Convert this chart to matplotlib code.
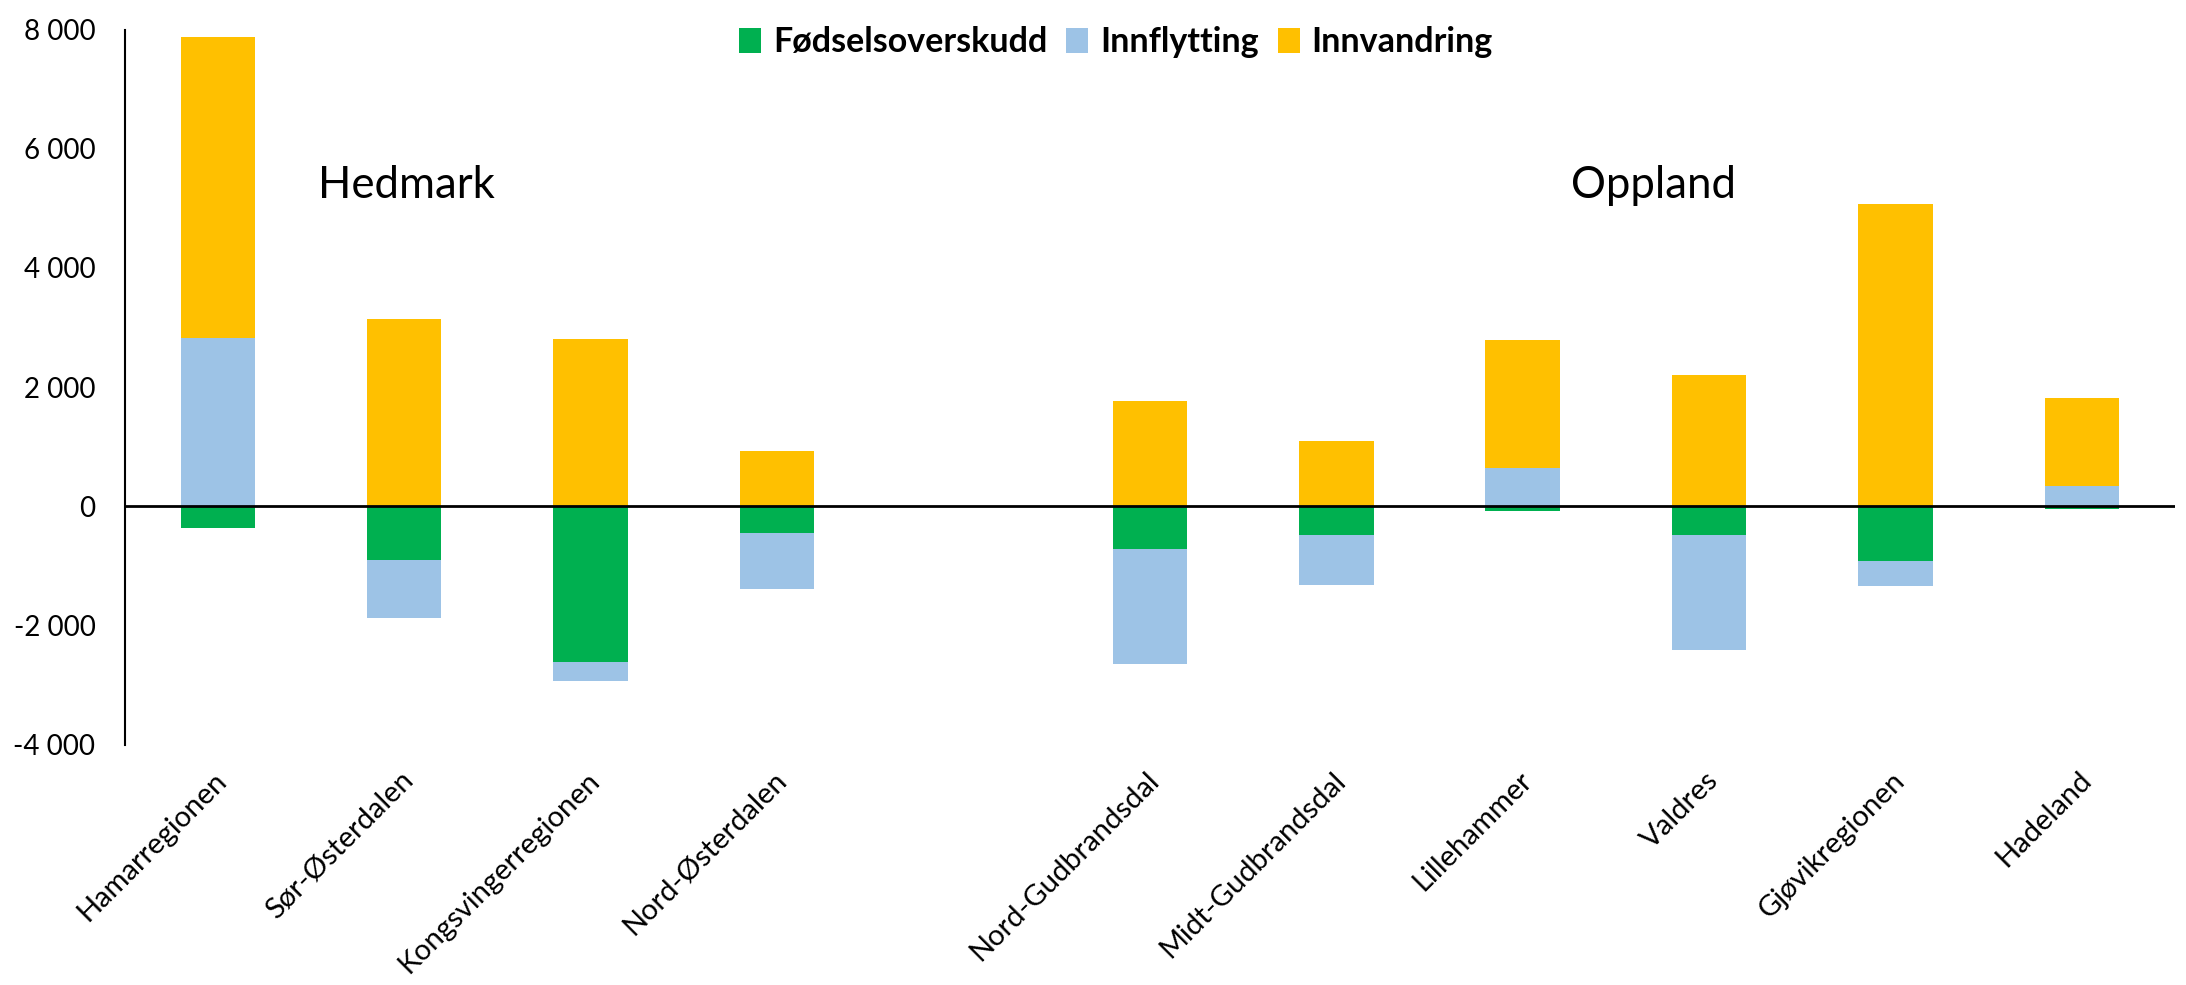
import matplotlib
matplotlib.use("Agg")
import matplotlib.pyplot as plt
import numpy as np
from matplotlib.patches import Patch

categories = ["Hamarregionen", "Sør-Østerdalen", "Kongsvingerregionen", "Nord-Østerdalen", "",
              "Nord-Gudbrandsdal", "Midt-Gudbrandsdal", "Lillehammer", "Valdres",
              "Gjøvikregionen", "Hadeland"]
fodselsoverskudd = [-370, -900, -2610, -440, 0, -710, -475, -85, -490, -913, -40]
innflytting = [2830, -980, -315, -940, 0, -1940, -840, 640, -1915, -420, 340]
innvandring = [5040, 3140, 2810, 935, 0, 1770, 1100, 2150, 2205, 5070, 1475]
series_names = ["Fødselsoverskudd", "Innflytting", "Innvandring"]
colors = ["#00B050", "#9DC3E6", "#FFC000"]
yticks = [-4000, -2000, 0, 2000, 4000, 6000, 8000]
group_labels = ["Hedmark", "Oppland"]

FONT = "Lato"

fig = plt.figure(figsize=(21.86, 9.85), dpi=100)
ax = fig.add_axes([0.057, 0.244, 0.938, 0.726])

x = np.arange(len(categories))
width = 0.40
pos_base = np.zeros(len(categories))
neg_base = np.zeros(len(categories))
for vals, c in zip([fodselsoverskudd, innflytting, innvandring], colors):
    v = np.array(vals, dtype=float)
    bottoms = np.where(v >= 0, pos_base, neg_base)
    ax.bar(x, v, width=width, bottom=bottoms, color=c, edgecolor="none", zorder=2)
    pos_base = pos_base + np.where(v > 0, v, 0)
    neg_base = neg_base + np.where(v < 0, v, 0)

ax.set_xlim(-0.5, len(categories) - 0.5)
ax.set_ylim(-4000, 8000)
ax.axhline(0, color="black", lw=2, zorder=3)
for s in ["top", "right", "bottom"]:
    ax.spines[s].set_visible(False)
ax.spines["left"].set_linewidth(1.5)
ax.spines["left"].set_color("black")

ax.set_yticks(yticks)
ax.set_yticklabels([f"{v:,}".replace(",", " ") for v in yticks],
                   fontfamily=FONT, fontsize=20)
ax.tick_params(axis="y", length=0, pad=21)
ax.set_xticks([])

for i, lab in enumerate(categories):
    if not lab:
        continue
    ax.annotate(lab, xy=(i, 0), xycoords=("data", "axes fraction"),
                xytext=(-3, -16), textcoords="offset points",
                rotation=45, rotation_mode="anchor", ha="right", va="top",
                fontfamily=FONT, fontsize=21)

ax.text(0.535, 5380, group_labels[0], fontfamily=FONT, fontsize=31.5,
        ha="left", va="center")
ax.text(7.26, 5380, group_labels[1], fontfamily=FONT, fontsize=31.5,
        ha="left", va="center")

handles = [Patch(facecolor=c, edgecolor="none", label=n) for c, n in zip(colors, series_names)]
leg = fig.legend(handles=handles, loc="center", bbox_to_anchor=(1116 / 2186, 1 - 42 / 985),
                 ncol=3, frameon=False, handlelength=0.65, handleheight=0.75,
                 handletextpad=0.35, columnspacing=0.55,
                 prop={"family": FONT, "weight": "bold", "size": 24.5})

fig.savefig("out.png", dpi=100)
